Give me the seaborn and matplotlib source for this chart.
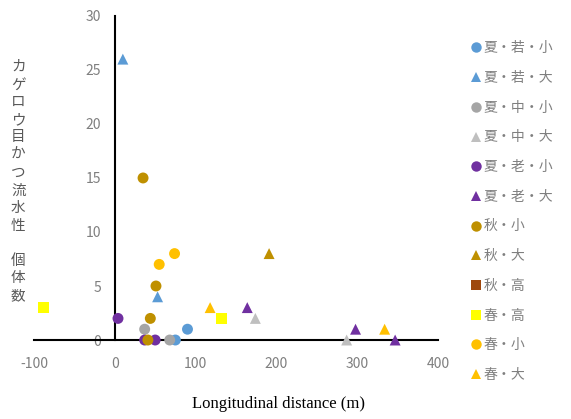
import pandas as pd
import matplotlib
matplotlib.use("Agg")
import matplotlib.pyplot as plt
from matplotlib.lines import Line2D
import seaborn as sns

# series labels, colours and markers (legend order)
groups = ["夏・若・小", "夏・若・大", "夏・中・小", "夏・中・大", "夏・老・小", "夏・老・大",
          "秋・小", "秋・大", "秋・高", "春・高", "春・小", "春・大"]
colors = ["#5B9BD5", "#5B9BD5", "#A5A5A5", "#BFBFBF", "#7030A0", "#7030A0",
          "#BF9000", "#BF9000", "#9E480E", "#FFFF00", "#FFC000", "#FFC000"]
markers = ["o", "^", "o", "^", "o", "^", "o", "^", "s", "s", "o", "^"]

# values: (distance m, count)
summer_young_small_x = [90, 75]
summer_young_small_y = [1, 0]
summer_young_large_x = [10, 53]
summer_young_large_y = [26, 4]
summer_mid_small_x = [37, 68]
summer_mid_small_y = [1, 0]
summer_mid_large_x = [174, 287]
summer_mid_large_y = [2, 0]
summer_old_small_x = [4, 37, 50]
summer_old_small_y = [2, 0, 0]
summer_old_large_x = [164, 298, 347]
summer_old_large_y = [3, 1, 0]
autumn_small_x = [35, 51, 44, 41]
autumn_small_y = [15, 5, 2, 0]
autumn_large_x = [191]
autumn_large_y = [8]
autumn_high_x = []
autumn_high_y = []
spring_high_x = [-88, 132]
spring_high_y = [3, 2]
spring_small_x = [55, 74]
spring_small_y = [7, 8]
spring_large_x = [118, 334]
spring_large_y = [3, 1]

xs = [summer_young_small_x, summer_young_large_x, summer_mid_small_x, summer_mid_large_x,
      summer_old_small_x, summer_old_large_x, autumn_small_x, autumn_large_x,
      autumn_high_x, spring_high_x, spring_small_x, spring_large_x]
ys = [summer_young_small_y, summer_young_large_y, summer_mid_small_y, summer_mid_large_y,
      summer_old_small_y, summer_old_large_y, autumn_small_y, autumn_large_y,
      autumn_high_y, spring_high_y, spring_small_y, spring_large_y]

rows = []
for g, x, y in zip(groups, xs, ys):
    for a, b in zip(x, y):
        rows.append({"distance": a, "count": b, "group": g})
df = pd.DataFrame(rows)

sns.set_style("white")
plt.rcParams["font.family"] = ["Noto Sans CJK JP", "DejaVu Sans"]
plt.rcParams["axes.unicode_minus"] = False

fig = plt.figure(figsize=(5.71, 4.19), dpi=100)
ax = fig.add_axes([0.0595, 0.1885, 0.7075, 0.7735])

sns.scatterplot(data=df, x="distance", y="count", hue="group", style="group",
                hue_order=groups, style_order=groups,
                palette=dict(zip(groups, colors)), markers=dict(zip(groups, markers)),
                s=62, linewidth=0, legend=False, clip_on=False, zorder=3, ax=ax)

ax.set_xlim(-100, 400)
ax.set_ylim(0, 30)
ax.set_xticks([-100, 0, 100, 200, 300, 400])
ax.set_yticks([0, 5, 10, 15, 20, 25, 30])
ax.spines["left"].set_position(("data", 0))
ax.spines["bottom"].set_position(("data", 0))
ax.spines["top"].set_visible(False)
ax.spines["right"].set_visible(False)
for s in ["left", "bottom"]:
    ax.spines[s].set_color("black")
    ax.spines[s].set_linewidth(1.5)
ax.tick_params(axis="both", direction="in", length=5, width=1.3, color="black",
               labelcolor="#7F7F7F", labelsize=10)
ax.tick_params(axis="x", pad=12)
ax.tick_params(axis="y", pad=10)
ax.set_xlabel("")
ax.set_ylabel("")

fig.text(0.487, 0.036, "Longitudinal distance (m)", family="Liberation Serif",
         fontsize=12, ha="center", va="center", color="black")

ylab = "\n".join(list("カゲロウ目かつ流水性") + [" "] + list("個体数"))
fig.text(0.032, 0.857, ylab, fontsize=10.5, color="#595959", ha="center", va="top",
         linespacing=1.33)

handles = [Line2D([], [], marker=m, color=c, linestyle="", markersize=7.5,
                  markeredgewidth=0) for c, m in zip(colors, markers)]
leg = fig.legend(handles, groups, loc="upper left", bbox_to_anchor=(0.815, 0.918),
                 frameon=False, fontsize=10, labelspacing=1.13, handlelength=0.6,
                 handletextpad=0.2, borderpad=0)
for t in leg.get_texts():
    t.set_color("#7F7F7F")

plt.savefig("out.png")
